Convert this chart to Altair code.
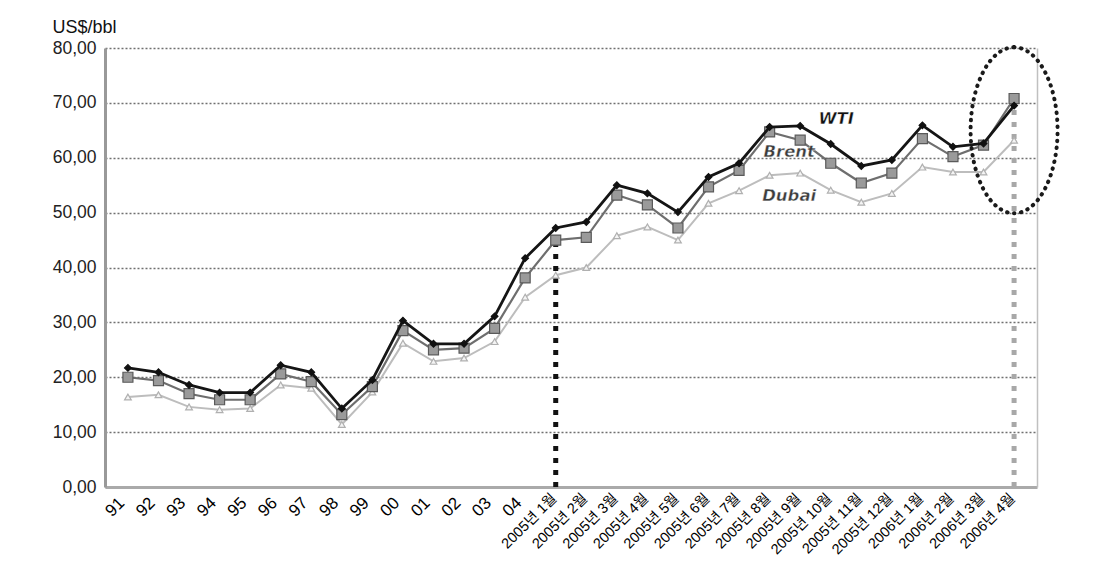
import altair as alt
import pandas as pd

categories = ["91", "92", "93", "94", "95", "96", "97", "98", "99", "00",
              "01", "02", "03", "04",
              "2005년 1월", "2005년 2월", "2005년 3월", "2005년 4월", "2005년 5월",
              "2005년 6월", "2005년 7월", "2005년 8월", "2005년 9월", "2005년 10월",
              "2005년 11월", "2005년 12월",
              "2006년 1월", "2006년 2월", "2006년 3월", "2006년 4월"]
wti = [21.7, 20.9, 18.6, 17.2, 17.2, 22.2, 20.9, 14.3, 19.5, 30.3,
       26.1, 26.1, 31.1, 41.7,
       47.2, 48.3, 55.0, 53.5, 50.1, 56.5, 59.0, 65.6, 65.8, 62.5,
       58.5, 59.6, 65.9, 62.0, 62.6, 69.5]
brent = [20.0, 19.4, 17.0, 15.9, 15.9, 20.6, 19.2, 13.2, 18.3, 28.5,
         25.0, 25.3, 28.9, 38.1,
         45.0, 45.5, 53.2, 51.4, 47.2, 54.7, 57.7, 64.7, 63.2, 59.0,
         55.4, 57.2, 63.5, 60.2, 62.3, 70.8]
dubai = [16.4, 16.8, 14.6, 14.1, 14.3, 18.6, 18.0, 11.4, 17.3, 26.2,
         22.9, 23.5, 26.5, 34.6,
         38.6, 40.0, 45.8, 47.4, 45.0, 51.7, 54.0, 56.8, 57.2, 54.1,
         51.9, 53.5, 58.3, 57.4, 57.4, 63.2]

series_names = ["WTI", "Brent", "Dubai"]
label_cat = "2005년 9월"
label_y = [67.0, 61.0, 53.0]
label_dx = [36, -11, -11]
label_color = ["#111111", "#3c3c3c", "#3c3c3c"]
ellipse_center = 65.0

FONT = "Liberation Sans, Arial, Noto Sans CJK KR"
LABEL_FONT = "DejaVu Sans"

df = pd.DataFrame({"cat": categories, "WTI": wti, "Brent": brent, "Dubai": dubai})
rules_df = pd.DataFrame({
    "cat": [categories[14], categories[-1]],
    "top": [brent[14], wti[-1]],
    "kind": ["start", "end"],
})
labels_df = pd.DataFrame({"cat": [label_cat] * 3, "name": series_names, "y": label_y})
ell_df = pd.DataFrame({"cat": [categories[-1]], "y": [ellipse_center]})

xscale = alt.Scale(domain=categories, padding=0.5)
yscale = alt.Scale(domain=[0, 80], nice=False)

short_test = "length(datum.label) <= 2"
x_axis = alt.Axis(
    title=None, labelAngle=-45, labelAlign="right", labelBaseline="middle",
    ticks=False, grid=False,
    domainColor="#aaaaaa", domainWidth=3,
    labelFont=FONT, labelColor="#000000", labelOverlap=False,
    labelPadding={"condition": {"test": short_test, "value": 13}, "value": 9},
    labelOffset={"condition": {"test": short_test, "value": -6}, "value": -1},
    labelFontSize={"condition": {"test": short_test, "value": 17}, "value": 14.5},
)
x_enc = alt.X("cat:N", scale=xscale, sort=categories, axis=x_axis)

y_axis_left = alt.Axis(
    title="US$/bbl", titleAngle=0, titleX=-21, titleY=-12, titleAlign="center",
    titleFont=FONT, titleFontSize=18, titleFontWeight="normal", titleColor="#111111",
    titleBaseline="bottom",
    values=[0, 10, 20, 30, 40, 50, 60, 70, 80],
    labelExpr="replace(format(datum.value, '.2f'), '.', ',')",
    labelFont=FONT, labelFontSize=17.5, labelColor="#222222", labelPadding=9,
    ticks=False, domainColor="#999999", domainWidth=3,
    grid=True, gridColor="#707070", gridDash=[2, 2], gridWidth=1.7,
)
y_axis_right = alt.Axis(
    orient="right", title=None, labels=False, ticks=False, grid=False,
    domainColor="#c0c0c0", domainWidth=1.5,
)

base = alt.Chart(df).mark_line(opacity=0).encode(
    x=x_enc, y=alt.Y("WTI:Q", scale=yscale, axis=y_axis_left)
)
frame = alt.Chart(df).mark_line(opacity=0).encode(
    x=x_enc, y=alt.Y("WTI:Q", scale=yscale, axis=y_axis_right)
)

rule_start = alt.Chart(rules_df[rules_df.kind == "start"]).mark_rule(
    color="#111111", strokeWidth=5, strokeDash=[5, 7]
).encode(x=x_enc, y=alt.Y("zero:Q", scale=yscale, axis=None), y2="top:Q").transform_calculate(zero="0")
rule_end = alt.Chart(rules_df[rules_df.kind == "end"]).mark_rule(
    color="#a8a8a8", strokeWidth=5, strokeDash=[5, 7]
).encode(x=x_enc, y=alt.Y("zero:Q", scale=yscale, axis=None), y2="top:Q").transform_calculate(zero="0")

def series_layers(field, line_color, line_width, shape, fill, stroke, size):
    line = alt.Chart(df).mark_line(color=line_color, strokeWidth=line_width).encode(
        x=x_enc, y=alt.Y(f"{field}:Q", scale=yscale, axis=None)
    )
    pts = alt.Chart(df).mark_point(shape=shape, filled=True, fill=fill, stroke=stroke,
                                   strokeWidth=1.2, size=size, opacity=1).encode(
        x=x_enc, y=alt.Y(f"{field}:Q", scale=yscale, axis=None)
    )
    return [line, pts]

dubai_l = series_layers("Dubai", "#bdbdbd", 2, "triangle-up", "#f4f4f4", "#b0b0b0", 45)
brent_l = series_layers("Brent", "#6e6e6e", 2.2, "square", "#9a9a9a", "#5a5a5a", 100)
wti_l = series_layers("WTI", "#151515", 2.8, "diamond", "#111111", "#111111", 45)

label_layers = []
for i, name in enumerate(series_names):
    label_layers.append(
        alt.Chart(labels_df[labels_df.name == name]).mark_text(
            font=LABEL_FONT, fontSize=16.5, fontWeight="bold", fontStyle="italic",
            color=label_color[i], dx=label_dx[i],
            stroke="white", strokeWidth=0.4
        ).encode(x=x_enc, y=alt.Y("y:Q", scale=yscale, axis=None), text="name:N")
    )

ellipse_path = ("M0,-1 C0.2894,-1 0.524,-0.5523 0.524,0 C0.524,0.5523 0.2894,1 0,1 "
                "C-0.2894,1 -0.524,0.5523 -0.524,0 C-0.524,-0.5523 -0.2894,-1 0,-1 Z")
ellipse = alt.Chart(ell_df).mark_point(
    shape=ellipse_path, filled=False, stroke="#1a1a1a", strokeWidth=4,
    strokeDash=[0.5, 6.5], strokeCap="round", size=27556, opacity=1
).encode(x=x_enc, y=alt.Y("y:Q", scale=yscale, axis=None))

chart = alt.layer(
    base, frame, rule_start, rule_end,
    *dubai_l, *brent_l, *wti_l, *label_layers, ellipse
).resolve_axis(y="independent").properties(
    width=932, height=439,
    autosize=alt.AutoSizeParams(type="none"),
    padding={"left": 97, "top": 40, "right": 53, "bottom": 80},
    background="white",
).configure_view(stroke=None)

chart.save("out.html", embed_options={"renderer": "svg", "actions": False})
